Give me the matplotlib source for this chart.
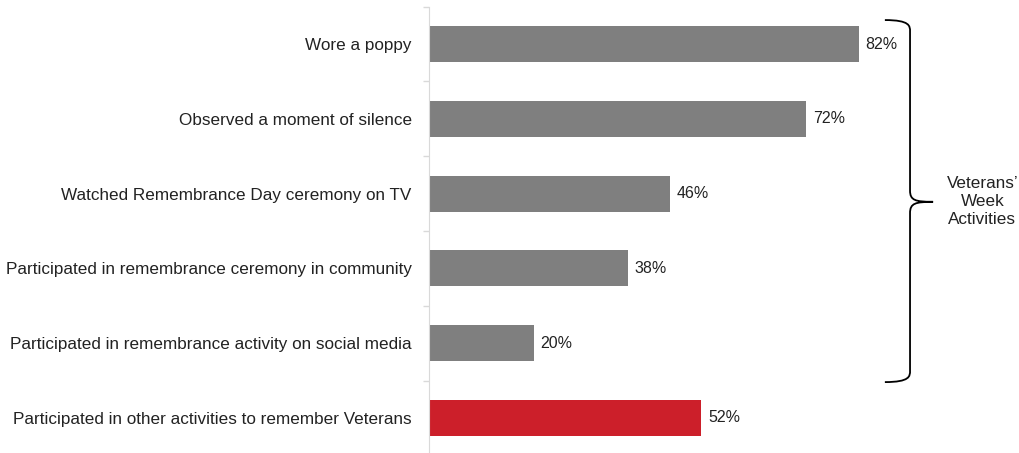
import matplotlib.pyplot as plt
from matplotlib.path import Path
from matplotlib.patches import PathPatch

plt.rcParams["font.family"] = ["Liberation Sans", "DejaVu Sans"]

activities = [
    "Wore a poppy",
    "Observed a moment of silence",
    "Watched Remembrance Day ceremony on TV",
    "Participated in remembrance ceremony in community",
    "Participated in remembrance activity on social media",
    "Participated in other activities to remember Veterans",
]
percents = [82, 72, 46, 38, 20, 52]
bar_colors = ["#7f7f7f"] * 5 + ["#cc1f2a"]
group_label = "Veterans’\nWeek\nActivities"

fig = plt.figure(figsize=(10.2, 4.53), dpi=100)
W, H = 1020, 453
# axes: x=0 at px 429, 1% = 5.24 px; rows 74.8 px apart
ax = fig.add_axes([429 / W, -2.4 / H, 524 / W, 448.8 / H])

y = list(range(len(activities)))
ax.barh(y, percents, height=0.48, color=bar_colors)
ax.set_xlim(0, 100)
ax.set_ylim(len(activities) - 0.5, -0.5)

for yi, v in zip(y, percents):
    ax.text(v + 1.3, yi, f"{v}%", va="center", ha="left", fontsize=11.5,
            color="#222222")

ax.set_yticks([i + 0.5 for i in range(-1, len(activities))])
ax.set_yticklabels([])
ax.set_yticks(y, minor=True)
ax.set_yticklabels(activities, minor=True, fontsize=12.3, color="#222222")
ax.tick_params(axis="y", which="major", length=4, color="#d9d9d9", width=1)
ax.tick_params(axis="y", which="minor", length=0, pad=12.5)
ax.set_xticks([])
for side in ["top", "right", "bottom"]:
    ax.spines[side].set_visible(False)
ax.spines["left"].set_color("#d9d9d9")

# curly brace on the right
x0, x1, xt = 87.0, 91.8, 96.2
ytop, ybot, ymid = -0.32, 4.52, 2.11
verts = [
    (x0, ytop), (x1, ytop), (x1, ytop + 0.08), (x1, ytop + 0.15),
    (x1, ymid - 0.15),
    (x1, ymid - 0.02), (x1 + 1.0, ymid), (xt, ymid),
    (x1 + 1.0, ymid), (x1, ymid + 0.02), (x1, ymid + 0.15),
    (x1, ybot - 0.15),
    (x1, ybot - 0.08), (x1, ybot), (x0, ybot),
]
codes = [
    Path.MOVETO, Path.CURVE4, Path.CURVE4, Path.CURVE4,
    Path.LINETO,
    Path.CURVE4, Path.CURVE4, Path.CURVE4,
    Path.CURVE4, Path.CURVE4, Path.CURVE4,
    Path.LINETO,
    Path.CURVE4, Path.CURVE4, Path.CURVE4,
]
brace = PathPatch(Path(verts, codes), fill=False, lw=1.3, color="black",
                  clip_on=False)
ax.add_patch(brace)

ax.text(105.6, ymid, group_label, ha="center", va="center", fontsize=12.3,
        color="#222222", linespacing=1.25, clip_on=False)

fig.savefig("out.png", dpi=100)
